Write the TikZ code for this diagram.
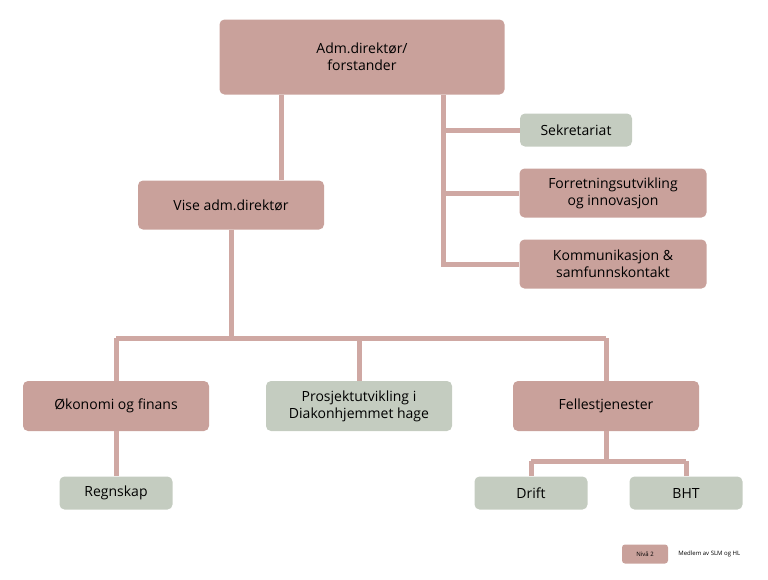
\documentclass[tikz,border=0pt]{standalone}
\usepackage{fontspec}
\setmainfont{Open Sans}
\usetikzlibrary{positioning}
\definecolor{rosa}{HTML}{C9A19B}
\definecolor{salvie}{HTML}{C4CCC0}
\definecolor{strek}{HTML}{CFA8A3}
\tikzset{
  niva2/.style={fill=rosa, rounded corners=5pt, align=center, inner sep=0pt, font=\fontsize{14}{17}\selectfont},
  niva3/.style={fill=salvie, rounded corners=5pt, align=center, inner sep=0pt, font=\fontsize{14}{17}\selectfont},
  linje/.style={draw=strek, line width=5pt}
}
\begin{document}
\begin{tikzpicture}[x=1pt, y=-1pt]
    \useasboundingbox (0,0) rectangle (768,579);

    % --- TOP ---
    \node[niva2, minimum width=285pt, minimum height=75pt] (adm) at (362,57) {Adm.direktør/\\forstander};
    \node[niva3, minimum width=112pt, minimum height=33pt] (sekr) at (576,130) {Sekretariat};
    \node[niva2, minimum width=187pt, minimum height=49pt] (forr) at (613,193) {Forretningsutvikling\\og innovasjon};
    \node[niva2, minimum width=187pt, minimum height=49pt] (komm) at (613,264) {Kommunikasjon \&\\samfunnskontakt};
    \node[niva2, minimum width=186pt, minimum height=49pt] (vise) at (231,205) {Vise adm.direktør};

    % --- NIVAA 2 ---
    \node[niva2, minimum width=186pt, minimum height=50pt] (okon) at (116,406) {Økonomi og finans};
    \node[niva3, minimum width=186pt, minimum height=50pt] (pros) at (359,406) {Prosjektutvikling i\\Diakonhjemmet hage};
    \node[niva2, minimum width=186pt, minimum height=50pt] (fell) at (606,406) {Fellestjenester};

    % --- NIVAA 3 ---
    \node[niva3, minimum width=113pt, minimum height=33pt] (regn) at (116,493) {Regnskap};
    \node[niva3, minimum width=113pt, minimum height=33pt] (drift) at (531,493) {Drift};
    \node[niva3, minimum width=113pt, minimum height=33pt] (bht) at (686,493) {BHT};

    % --- LEGEND ---
    \node[niva2, minimum width=46pt, minimum height=19pt, rounded corners=3pt, font=\fontsize{6}{7}\selectfont] (leg) at (645,554) {Nivå 2};
    \node[right=10pt of leg, inner sep=0pt, font=\fontsize{6}{7}\selectfont] (legtxt) {Medlem av SLM og HL};

    % --- LINES ---
    \coordinate (a1) at (281,95);
    \coordinate (a2) at (443,95);
    \coordinate (a3) at (443,266.5);
    \coordinate (v1) at (231,338);
    \coordinate (h1) at (116,338);
    \coordinate (h2) at (606,338);
    \coordinate (f1) at (606,461);
    \coordinate (d1) at (531,461);
    \coordinate (d2) at (686,461);
    \begin{scope}[on background layer/.style={}]
    \draw[linje] (a1) -- (a1 |- vise.north);
    \draw[linje] (a2) -- (a3);
    \draw[linje] (a2 |- sekr) -- (sekr.west);
    \draw[linje] (a2 |- forr) -- (forr.west);
    \draw[linje] (443,264) -- (komm.west);
    \draw[linje] (vise.south) -- (v1);
    \draw[linje] (h1) -- (h2);
    \draw[linje] (h1) -- (okon.north);
    \draw[linje] (pros.north |- h1) -- (pros.north);
    \draw[linje] (h2) -- (fell.north);
    \draw[linje] (okon.south) -- (regn.north);
    \draw[linje] (fell.south) -- (f1);
    \draw[linje] (d1) -- (d2);
    \draw[linje] (d1) -- (drift.north);
    \draw[linje] (d2) -- (bht.north);
    \end{scope}
\end{tikzpicture}
\end{document}
